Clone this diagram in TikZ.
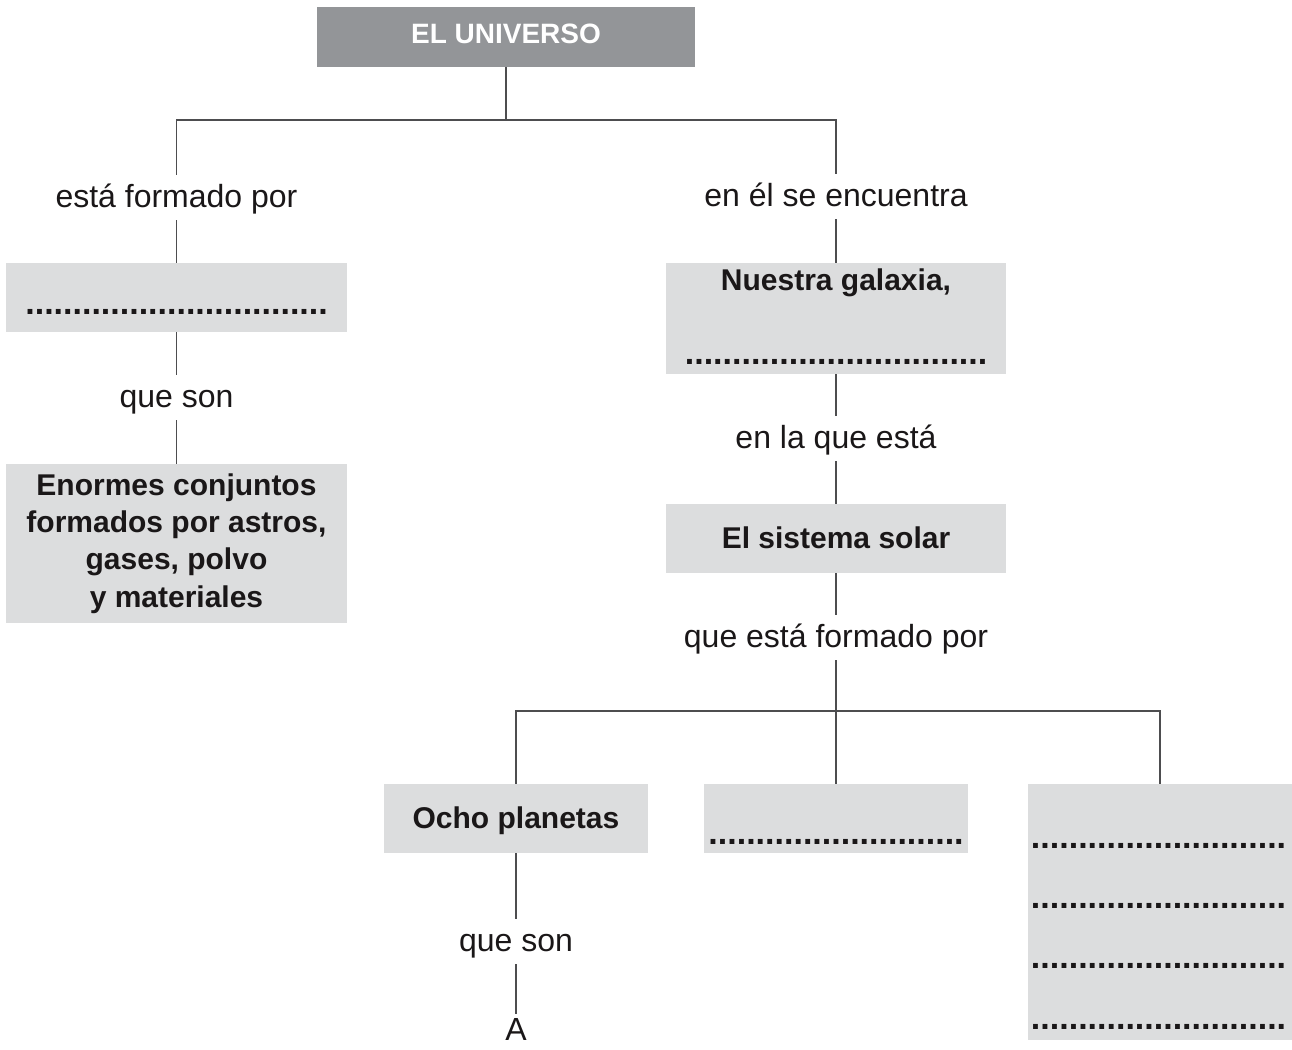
\documentclass[tikz,border=0pt]{standalone}
\usepackage{fontspec}
\setmainfont{Liberation Sans}
\definecolor{titlegray}{HTML}{939598}
\definecolor{boxgray}{HTML}{DCDDDE}
\definecolor{linegray}{HTML}{4D4D4F}
\definecolor{ink}{HTML}{1A1718}
\newcommand{\mydots}[1]{\begingroup\count255=0 \loop\ifnum\count255<#1\relax.\advance\count255 by 1\relax\repeat\endgroup}
\tikzset{
  gbox/.style={rectangle, fill=boxgray, draw=none, inner sep=0pt},
  lab/.style={font=\fontsize{32}{38}\selectfont, text=ink, inner sep=0pt, text height=32pt, text depth=13pt, anchor=base},
  btext/.style={font=\fontsize{30}{37}\selectfont\bfseries, text=ink, inner sep=0pt, anchor=base},
  dotrow/.style={font=\fontsize{34}{40}\selectfont\bfseries, text=ink, inner sep=0pt, anchor=base},
  conn/.style={draw=linegray, line width=1.4pt},
}
\begin{document}
\begin{tikzpicture}[x=1pt,y=-1pt]
\useasboundingbox (0,0) rectangle (1292,1049);
% title
\node[rectangle, fill=titlegray, inner sep=0pt, minimum width=378pt, minimum height=60pt] (title) at (506,37) {};
\node[font=\fontsize{28}{34}\selectfont\bfseries, text=white, inner sep=0pt, anchor=base] (titletext) at (506,44) {EL UNIVERSO};
\coordinate (j1) at (506,120);
% left column
\node[lab] (lf1) at (176.5,207) {está formado por};
\node[gbox, minimum width=341pt, minimum height=69pt] (b1) at (176.5,297.5) {};
\node[dotrow] (d1) at (176.5,314.5) {\mydots{32}};
\node[lab] (lq1) at (176.5,407) {que son};
\node[gbox, minimum width=341pt, minimum height=159pt] (b2) at (176.5,543.5) {};
\node[font=\fontsize{30}{37.3}\selectfont\bfseries, text=ink, inner sep=0pt, align=center] (etext) at (176.5,543.5) {Enormes conjuntos\\formados por astros,\\gases, polvo\\y materiales};
% right column
\node[lab] (rf1) at (836,206) {en él se encuentra};
\node[gbox, minimum width=340pt, minimum height=111pt] (b3) at (836,318.5) {};
\node[btext] (gal) at (836,290) {Nuestra galaxia,};
\node[dotrow] (d2) at (836,364.5) {\mydots{32}};
\node[lab] (rl) at (836,448) {en la que está};
\node[gbox, minimum width=340pt, minimum height=69pt] (b4) at (836,538.5) {};
\node[btext] (sol) at (836,548) {El sistema solar};
\node[lab] (rf2) at (836,647) {que está formado por};
\coordinate (j2) at (836,711);
% bottom row
\node[gbox, minimum width=264pt, minimum height=69pt] (ob) at (516,818.5) {};
\node[btext] (ocho) at (516,828) {Ocho planetas};
\node[gbox, minimum width=264pt, minimum height=69pt] (mb) at (836,818.5) {};
\node[dotrow] (d3) at (836,844) {\mydots{27}};
\node[gbox, minimum width=264pt, minimum height=256pt] (rb) at (1160,912) {};
\node[dotrow] (d4) at (1158.5,848.5) {\mydots{27}};
\node[dotrow] (d5) at (1158.5,908.5) {\mydots{27}};
\node[dotrow] (d6) at (1158.5,968.5) {\mydots{27}};
\node[dotrow] (d7) at (1158.5,1029.5) {\mydots{27}};
\node[lab] (lq2) at (516,951) {que son};
\node[lab, text height=26pt, text depth=0pt] (aa) at (516,1040) {A};
% connectors
\draw[conn] (title.south) -- (j1);
\draw[conn] (lf1.north) |- (j1) -| (rf1.north);
\draw[conn] (lf1.south) -- (b1.north);
\draw[conn] (b1.south) -- (lq1.north);
\draw[conn] (lq1.south) -- (b2.north);
\draw[conn] (rf1.south) -- (b3.north);
\draw[conn] (b3.south) -- (rl.north);
\draw[conn] (rl.south) -- (b4.north);
\draw[conn] (b4.south) -- (rf2.north);
\draw[conn] (rf2.south) -- (j2);
\draw[conn] (ob.north) |- (j2) -| (rb.north);
\draw[conn] (j2) -- (mb.north);
\draw[conn] (ob.south) -- (lq2.north);
\draw[conn] (lq2.south) -- (aa.north);
\end{tikzpicture}
\end{document}
